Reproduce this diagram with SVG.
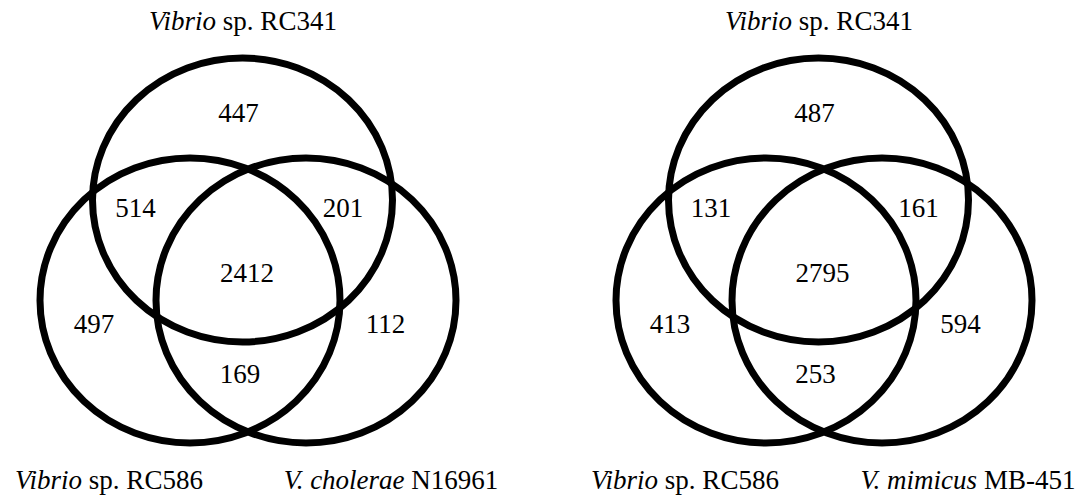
<svg xmlns="http://www.w3.org/2000/svg" width="1091" height="500" viewBox="0 0 1091 500">
<style>
.set{fill:none;stroke:#000;stroke-width:7}
text{font-family:"Liberation Serif","Times New Roman",serif;font-size:27px;fill:#000;text-anchor:middle}
.i{font-style:italic}
</style>
<rect width="1091" height="500" fill="#fff"/>
<g id="venn-left">
  <g id="left-rc341">
    <ellipse class="set" cx="242.5" cy="200" rx="150" ry="142"/>
    <text x="243" y="30"><tspan class="i">Vibrio</tspan> sp. RC341</text>
  </g>
  <g id="left-rc586">
    <ellipse class="set" cx="190" cy="300.5" rx="150" ry="142.5"/>
    <text x="109" y="489"><tspan class="i">Vibrio</tspan> sp. RC586</text>
  </g>
  <g id="left-n16961">
    <ellipse class="set" cx="306" cy="300.5" rx="150" ry="142.5"/>
    <text x="391" y="489"><tspan class="i">V. cholerae</tspan> N16961</text>
  </g>
  <g id="left-counts">
    <text x="238.5" y="122">447</text>
    <text x="135.5" y="217">514</text>
    <text x="343" y="217">201</text>
    <text x="247" y="282">2412</text>
    <text x="94" y="333">497</text>
    <text x="385.5" y="333">112</text>
    <text x="240" y="383">169</text>
  </g>
</g>
<g id="venn-right">
  <g id="right-rc341">
    <ellipse class="set" cx="818.5" cy="200" rx="150" ry="142"/>
    <text x="819" y="30"><tspan class="i">Vibrio</tspan> sp. RC341</text>
  </g>
  <g id="right-rc586">
    <ellipse class="set" cx="766" cy="300.5" rx="150" ry="142.5"/>
    <text x="685" y="489"><tspan class="i">Vibrio</tspan> sp. RC586</text>
  </g>
  <g id="right-mb451">
    <ellipse class="set" cx="882" cy="300.5" rx="150" ry="142.5"/>
    <text x="968" y="489"><tspan class="i">V. mimicus</tspan> MB-451</text>
  </g>
  <g id="right-counts">
    <text x="814.5" y="122">487</text>
    <text x="711" y="217">131</text>
    <text x="918.5" y="217">161</text>
    <text x="822.5" y="282">2795</text>
    <text x="670" y="333">413</text>
    <text x="960.5" y="333">594</text>
    <text x="815.5" y="383">253</text>
  </g>
</g>
<g id="connectors"/>
</svg>
